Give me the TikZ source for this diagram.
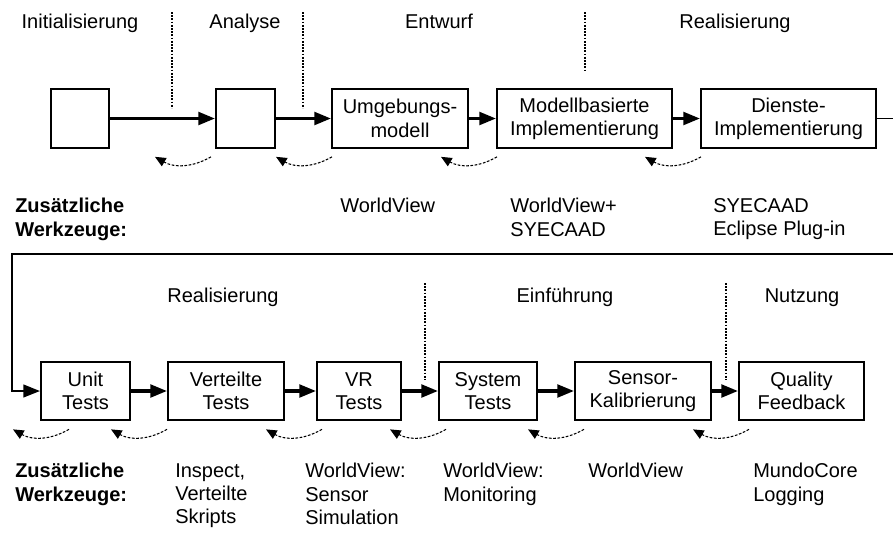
\documentclass[tikz,border=0pt]{standalone}
\usepackage{fontspec}
\setmainfont{Liberation Sans}
\usetikzlibrary{arrows.meta,calc}

\tikzset{%
  every stage/.style={
    draw,
    line width=1.5pt,
    minimum height=44pt,
    align=center,
    inner sep=1pt
  },
  flow/.style={
    line width=2.4pt,
    -{Triangle[length=12.5pt,width=9.5pt]}
  },
  wrap/.style={
    line width=1.6pt,
    -{Triangle[length=12.5pt,width=9.5pt]}
  },
  back/.style={
    line width=0.8pt,
    dash pattern=on 2pt off 1.2pt,
    -{Triangle[length=8pt,width=7pt]}
  },
  separator/.style={
    line width=1.5pt,
    dash pattern=on 1.4pt off 1pt
  },
  phase/.style={anchor=base},
  tools/.style={anchor=north west, align=left, inner sep=0pt},
  tool head/.style={tools, font=\fontsize{15}{17.5}\selectfont\bfseries},
}

\begin{document}
\begin{tikzpicture}[x=0.75pt, y=-0.75pt, font=\fontsize{15}{17.5}\selectfont]
  \useasboundingbox (0,0) rectangle (893,533);

  % upper chain
  \foreach \n/\x/\w/\t in {init/80/58/{}, ana/245.5/59/{},
      umg/400/136/{Umgebungs-\\modell},
      mbi/584.5/175/{Modellbasierte\\Implementierung},
      dienst/788.5/175/{Dienste-\\Implementierung}}
    \node [every stage, minimum width=\w*0.75pt] (\n) at (\x,118.5) {\t};

  % lower chain
  \foreach \n/\x/\w/\t in {unit/85.5/89/{Unit\\Tests},
      vert/226/116/{Verteilte\\Tests},
      vr/359/84/{VR\\Tests},
      sys/488/98/{System\\Tests},
      sens/643/136/{Sensor-\\Kalibrierung},
      qual/801.5/125/{Quality\\Feedback}}
    \node [every stage, minimum width=\w*0.75pt] (\n) at (\x,391) {\t};

  \foreach \a/\b in {init/ana, ana/umg, umg/mbi, mbi/dienst,
      unit/vert, vert/vr, vr/sys, sys/sens, sens/qual}
    \draw [flow] (\a) -- (\b);

  % wrap-around to the second row
  \coordinate (wrapR) at (900,118.5);
  \coordinate (wrapL) at (12,254);
  \draw [line width=0.75pt] (dienst) -- (wrapR);
  \draw [wrap] (wrapR) |- (wrapL) |- (unit);

  % feedback arrows
  \foreach \b/\dx in {ana/-4, umg/1, mbi/1, dienst/1,
      unit/29, vert/0, vr/6, sys/8, sens/10, qual/11}
    \draw [back] ($(\b.south west)+(\dx,8)$) to [bend left=30] ++(-56,0);

  % phase borders
  \foreach \x/\ya/\yb in {172/12/108, 303/12/108, 585/12/70,
      425/283/380, 726/283/380}
    \draw [separator] (\x,\ya) -- (\x,\yb);

  \foreach \x/\y/\t [count=\i] in {80/28/Initialisierung, 245/28/Analyse,
      439/28/Entwurf, 735/28/Realisierung, 223/302/Realisierung,
      565/302/Einführung, 802/302/Nutzung}
    \node [phase] (phase-\i) at (\x,\y) {\t};

  % tools
  \node [tool head] (head-1) at (15,198) {Zusätzliche\\Werkzeuge:};
  \node [tool head] (head-2) at (15,463) {Zusätzliche\\Werkzeuge:};

  \foreach \x/\y/\t [count=\i] in {340/198/WorldView,
      510/198/{WorldView+\\SYECAAD},
      713/198/{SYECAAD\\Eclipse Plug-in},
      175/463/{Inspect,\\Verteilte\\Skripts},
      305/463/{WorldView:\\Sensor\\Simulation},
      443/463/{WorldView:\\Monitoring},
      588/463/WorldView,
      753/463/{MundoCore\\Logging}}
    \node [tools] (tool-\i) at (\x,\y) {\t};

\end{tikzpicture}
\end{document}
